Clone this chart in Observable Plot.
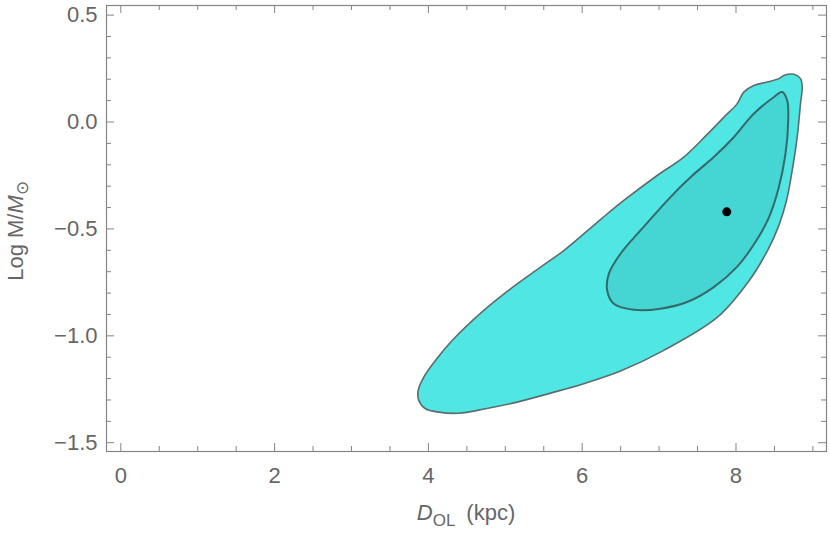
<!DOCTYPE html>
<html><head><meta charset="utf-8">
<script src="https://cdn.jsdelivr.net/npm/d3@7"></script>
<script src="https://cdn.jsdelivr.net/npm/@observablehq/plot@0.6"></script>
<style>body{margin:0;background:#fff;}</style>
</head><body><div id="chart"></div>
<script>
// Outer (2-sigma) contour: distance D_OL (kpc) and log mass
const outerD = [3.867,3.875,3.962,4.135,4.395,4.743,5.155,5.588,6.021,6.498,7.061,7.759,8.163,8.410,8.553,8.657,8.731,8.796,8.839,8.861,8.839,8.752,8.622,8.557,8.406,8.231,8.101,8.016,7.841,7.625,7.321,6.975,6.541,6.238,5.761,5.458,5.068,4.720,4.309,4.092,3.940];
const outerM = [-1.256,-1.302,-1.341,-1.357,-1.362,-1.341,-1.310,-1.268,-1.224,-1.165,-1.068,-0.913,-0.746,-0.601,-0.488,-0.367,-0.226,-0.071,0.086,0.163,0.203,0.223,0.218,0.203,0.187,0.171,0.140,0.086,0.022,-0.058,-0.164,-0.250,-0.367,-0.456,-0.601,-0.679,-0.780,-0.881,-1.022,-1.115,-1.193];
// Inner (1-sigma) contour
const innerD = [8.601,8.666,8.679,8.644,8.553,8.423,8.241,8.019,7.711,7.365,7.018,6.671,6.411,6.325,6.346,6.498,6.758,7.148,7.408,7.711,7.971,8.231,8.491];
const innerM = [0.140,0.101,0.007,-0.148,-0.311,-0.451,-0.568,-0.675,-0.772,-0.842,-0.873,-0.878,-0.850,-0.788,-0.710,-0.616,-0.507,-0.351,-0.258,-0.164,-0.071,0.039,0.116];
// Best fit point
const bestD = [7.88];
const bestM = [-0.42];
// Ticks
const xTicks = [0,2,4,6,8];
const xTickLabels = ["0","2","4","6","8"];
const xMinor = [0.5,1,1.5,2.5,3,3.5,4.5,5,5.5,6.5,7,7.5,8.5,9];
const yTicks = [-1.5,-1.0,-0.5,0.0,0.5];
const yTickLabels = ["\u22121.5","\u22121.0","\u22120.5","0.0","0.5"];
const yMinor = [-1.4,-1.3,-1.2,-1.1,-0.9,-0.8,-0.7,-0.6,-0.4,-0.3,-0.2,-0.1,0.1,0.2,0.3,0.4];

const outer = outerD.map((d,i)=>({x:d,y:outerM[i]}));
const inner = innerD.map((d,i)=>({x:d,y:innerM[i]}));
const best = bestD.map((d,i)=>({x:d,y:bestM[i]}));

const W=830, H=535, mL=106, mR=4, mT=5, mB=84;
const fw = W-mL-mR, fh = H-mT-mB;
const major = 8, minor = 5;
const tickColor = "#858585";

const plot = Plot.plot({
  width: W, height: H,
  marginLeft: mL, marginRight: mR, marginTop: mT, marginBottom: mB,
  x: {domain: [-0.186, 9.177]},
  y: {domain: [-1.541, 0.545]},
  style: {fontFamily: "'Liberation Sans', Arial, sans-serif", fontSize: "22px", color: "#666", background: "white", overflow: "visible"},
  marks: [
    Plot.line(outer, {x:"x", y:"y", curve:"catmull-rom-closed", fill:"#4fe6e3", stroke:"#5d6d6d", strokeWidth:1.6}),
    Plot.line(inner, {x:"x", y:"y", curve:"catmull-rom-closed", fill:"#45d5d3", stroke:"#36696a", strokeWidth:2}),
    Plot.dot(best, {x:"x", y:"y", r:4.5, fill:"black", stroke:"none"}),
    // bottom ticks
    Plot.ruleX(xTicks, {insetTop: fh-major, stroke: tickColor}),
    Plot.ruleX(xMinor, {insetTop: fh-minor, stroke: tickColor}),
    // top ticks
    Plot.ruleX(xTicks, {insetBottom: fh-major, stroke: tickColor}),
    Plot.ruleX(xMinor, {insetBottom: fh-minor, stroke: tickColor}),
    // left ticks
    Plot.ruleY(yTicks, {insetRight: fw-major, stroke: tickColor}),
    Plot.ruleY(yMinor, {insetRight: fw-minor, stroke: tickColor}),
    // right ticks
    Plot.ruleY(yTicks, {insetLeft: fw-major, stroke: tickColor}),
    Plot.ruleY(yMinor, {insetLeft: fw-minor, stroke: tickColor}),
    Plot.frame({stroke: tickColor, strokeWidth: 1.2}),
    Plot.axisX(xTicks, {tickSize: 0, tickPadding: 16, label: null, tickFormat: (d,i)=>xTickLabels[i], fill:"#666"}),
    Plot.axisY(yTicks, {tickSize: 0, tickPadding: 9, label: null, tickFormat: (d,i)=>yTickLabels[i], fill:"#666"})
  ]
});
document.getElementById("chart").appendChild(plot);

const svg = d3.select(plot);
const cx = mL + fw/2;
const xl = svg.append("text").attr("x", cx).attr("y", 520).attr("text-anchor","middle")
  .attr("fill","#666").style("font-size","22px");
xl.append("tspan").attr("font-style","italic").text("D");
xl.append("tspan").attr("dy", 6).style("font-size","17px").text("OL");
xl.append("tspan").attr("dy", -6).text("\u2002(kpc)");

const cy = 231;
const yl = svg.append("text").attr("transform", `translate(23,${cy}) rotate(-90)`).attr("text-anchor","middle")
  .attr("fill","#666").style("font-size","22px");
yl.append("tspan").text("Log M/");
yl.append("tspan").attr("font-style","italic").text("M");
yl.append("tspan").attr("dy", 5).style("font-size","17px").text("\u2299");
</script>
</body></html>
